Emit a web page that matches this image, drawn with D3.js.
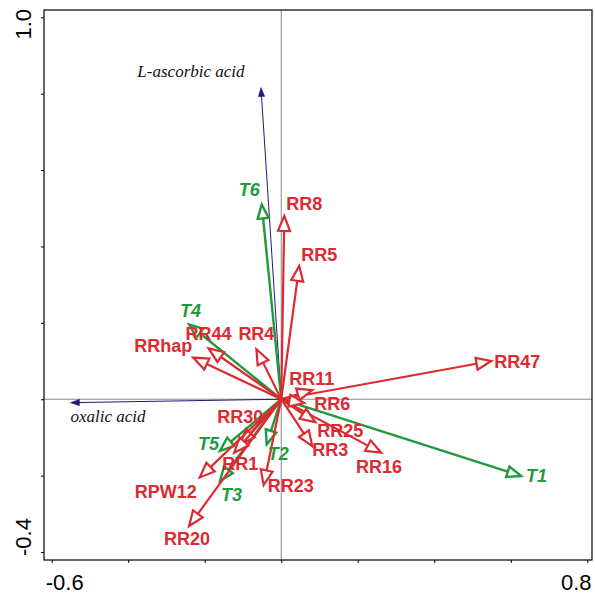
<!DOCTYPE html>
<html><head><meta charset="utf-8">
<script src="https://cdn.jsdelivr.net/npm/d3@7"></script>
<style>body{margin:0;background:#fff}</style>
</head><body>
<svg id="c" width="595" height="594"></svg>
<script>
// ---- data ----
const envNames = ["L-ascorbic acid", "oxalic acid"];
const envX = [-0.053, -0.551];
const envY = [0.816, -0.009];

const trtNames = ["T1", "T2", "T3", "T4", "T5", "T6"];
const trtX = [0.627, -0.038, -0.160, -0.241, -0.160, -0.051];
const trtY = [-0.201, -0.118, -0.214, 0.196, -0.135, 0.510];

const genNames = ["RR47", "RR16", "RR25", "RR3", "RR6", "RR11", "RR8", "RR5", "RR44", "RRhap", "RR4", "RR30", "RR1", "RPW12", "RR23", "RR20"];
const genX = [0.549, 0.261, 0.089, 0.081, 0.060, 0.081, 0.008, 0.047, -0.190, -0.230, -0.065, -0.107, -0.123, -0.213, -0.046, -0.241];
const genY = [0.100, -0.140, -0.060, -0.123, -0.010, 0.024, 0.480, 0.349, 0.133, 0.109, 0.131, -0.118, -0.140, -0.205, -0.225, -0.332];

const xTicks = [-0.6, -0.4, -0.2, 0, 0.2, 0.4, 0.6, 0.8];
const yTicks = [-0.4, -0.2, 0, 0.2, 0.4, 0.6, 0.8, 1.0];
const xTickLabels = ["-0.6", "0.8"];
const yTickLabels = ["-0.4", "1.0"];

// ---- layout (label offsets from arrow tips, px) ----
const labelOff = {
  "L-ascorbic acid": [-70, -11, "middle"], "oxalic acid": [0, 19, "start"],
  T1: [5, 6, "start"], T2: [1, 16, "start"], T3: [1, 20, "start"], T4: [-9, -7, "start"], T5: [-1, -1, "end"], T6: [-23, -8, "start"],
  RR47: [3, 7, "start"], RR16: [-25, 20, "start"], RR25: [2, 15, "start"], RR3: [0, 10, "start"], RR6: [10, 7, "start"],
  RR11: [-23, -5, "start"], RR8: [2, -6, "start"], RR5: [2, -5, "start"], RR44: [-23, -8, "start"], RRhap: [-1, -6, "end"],
  RR4: [-18, -9, "start"], RR30: [-23, -21, "start"], RR1: [-12, 17, "start"], RPW12: [-3, 20, "end"], RR23: [4, 7, "start"], RR20: [-25, 19, "start"]
};

const L = 44, R = 592, T = 10, B = 560;
const x = d3.scaleLinear().domain([-0.6, 0.8]).range([51.7, 587.3]);
const y = d3.scaleLinear().domain([-0.4, 1.0]).range([552, 17.3]);
const svg = d3.select("#c");

const red = "#dc2a30", green = "#1f9a3c", navy = "#1c1c78";

// zero lines
svg.append("line").attr("x1", x(0)).attr("x2", x(0)).attr("y1", T).attr("y2", B).attr("stroke", "#8a8a8a").attr("stroke-width", 1);
svg.append("line").attr("x1", L).attr("x2", R).attr("y1", y(0)).attr("y2", y(0)).attr("stroke", "#8a8a8a").attr("stroke-width", 1);

// frame
svg.append("rect").attr("x", L).attr("y", T).attr("width", R - L).attr("height", B - T).attr("fill", "none").attr("stroke", "#000").attr("stroke-width", 1.2);

// ticks
const gx = svg.append("g").attr("transform", `translate(0,${B})`)
  .call(d3.axisBottom(x).tickValues(xTicks).tickSize(3).tickFormat(""));
gx.select(".domain").remove();
const gy = svg.append("g").attr("transform", `translate(${L},0)`)
  .call(d3.axisLeft(y).tickValues(yTicks).tickSize(3).tickFormat(""));
gy.select(".domain").remove();

// tick labels
const tf = "Liberation Sans, Arial", ts = 22;
svg.append("text").text(xTickLabels[0]).attr("x", x(-0.6) + 13).attr("y", 590)
  .attr("text-anchor", "middle").attr("font-family", tf).attr("font-size", ts);
svg.append("text").text(xTickLabels[1]).attr("x", x(0.8) - 11).attr("y", 590)
  .attr("text-anchor", "middle").attr("font-family", tf).attr("font-size", ts);
svg.append("text").text(yTickLabels[0]).attr("transform", `translate(31,${y(-0.4) - 15}) rotate(-90)`)
  .attr("text-anchor", "middle").attr("font-family", tf).attr("font-size", ts);
svg.append("text").text(yTickLabels[1]).attr("transform", `translate(31,${y(1.0) + 7}) rotate(-90)`)
  .attr("text-anchor", "middle").attr("font-family", tf).attr("font-size", ts);

const ox = x(0), oy = y(0);

function drawArrows(names, xs, ys, opt) {
  const g = svg.append("g");
  names.forEach((n, i) => {
    const tx = x(xs[i]), ty = y(ys[i]);
    const dx = tx - ox, dy = ty - oy, len = Math.hypot(dx, dy);
    const ux = dx / len, uy = dy / len, px = -uy, py = ux;
    const bx = tx - ux * opt.hl, by = ty - uy * opt.hl;
    g.append("line").attr("x1", ox).attr("y1", oy).attr("x2", opt.filled ? tx - ux * 3 : bx).attr("y2", opt.filled ? ty - uy * 3 : by)
      .attr("stroke", opt.color).attr("stroke-width", opt.sw);
    const pts = [[tx, ty], [bx + px * opt.hw, by + py * opt.hw], [bx - px * opt.hw, by - py * opt.hw]];
    g.append("polygon").attr("points", pts.map(p => p.join(",")).join(" "))
      .attr("fill", opt.filled ? opt.color : "#fff").attr("stroke", opt.color).attr("stroke-width", opt.filled ? 0.5 : opt.sw)
      .attr("stroke-linejoin", "miter");
  });
}

drawArrows(envNames, envX, envY, {color: navy, sw: 1, hl: 9, hw: 3.2, filled: true});
drawArrows(trtNames, trtX, trtY, {color: green, sw: 2.4, hl: 14, hw: 5.5, filled: false});
drawArrows(genNames, genX, genY, {color: red, sw: 2.2, hl: 15, hw: 6, filled: false});

function drawLabels(names, xs, ys, style) {
  names.forEach((n, i) => {
    const o = labelOff[n];
    svg.append("text").text(n).attr("x", x(xs[i]) + o[0]).attr("y", y(ys[i]) + o[1])
      .attr("text-anchor", o[2]).attr("fill", style.color)
      .attr("font-family", style.family).attr("font-size", style.size)
      .attr("font-weight", style.weight).attr("font-style", style.italic ? "italic" : "normal");
  });
}
drawLabels(envNames, envX, envY, {color: "#111", family: "Liberation Serif, Times New Roman, serif", size: 17, weight: "normal", italic: true});
drawLabels(trtNames, trtX, trtY, {color: green, family: "Liberation Sans, Arial", size: 18, weight: "bold", italic: true});
drawLabels(genNames, genX, genY, {color: red, family: "Liberation Sans, Arial", size: 18, weight: "bold", italic: false});
</script>
</body></html>
